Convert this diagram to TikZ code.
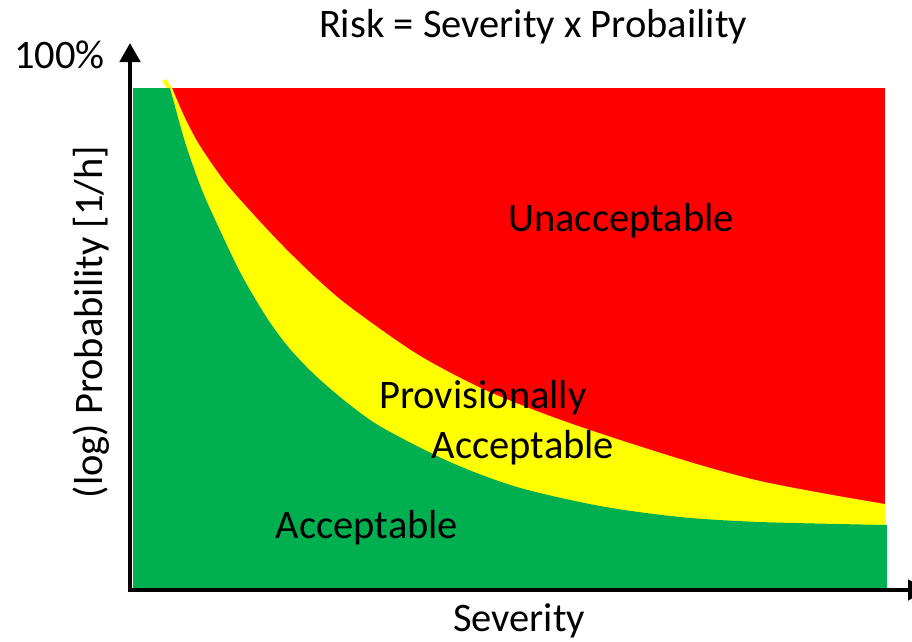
\documentclass[tikz,border=0pt]{standalone}
\usepackage{fontspec}
\setmainfont{Carlito}
\usetikzlibrary{arrows.meta}

\definecolor{riskred}{RGB}{255,0,0}
\definecolor{riskyellow}{RGB}{255,255,0}
\definecolor{riskgreen}{RGB}{0,176,80}

\tikzset{
  label/.style={inner sep=0pt, font=\fontsize{40.5}{48}\selectfont, text=black},
  axis/.style={line width=4.5pt, line join=miter,
    {Triangle[length=19pt,width=20pt]}-{Triangle[length=19pt,width=20pt]}},
}

\begin{document}
\begin{tikzpicture}[x=1pt,y=-1pt]
  \useasboundingbox (0,0) rectangle (912,641);
  \clip (0,0) rectangle (912,641);

  % zones: red everywhere, yellow below the upper limit, green below the lower limit
  \fill[riskred] (133,88) rectangle (885,588);
  \fill[riskyellow] (133,88) -- (172,88)
    -- plot[smooth, tension=0.5] coordinates {(172,88) (185,118) (200,146) (225,182)
      (253,214) (283,246) (317,279) (350,307) (417,354) (483,389) (550,416)
      (620,440) (700,465) (760,481) (827,494) (885,504)}
    -- (885,588) -- (133,588) -- cycle;
  \fill[riskyellow] (162,81) -- (166,79) -- (172,88) -- (167,88) -- cycle;
  \fill[riskgreen] (133,88) -- (170,88)
    -- plot[smooth, tension=0.5] coordinates {(170,88) (185,142) (200,185) (212,213)
      (240,272) (267,318) (290,349) (317,377) (350,405) (383,428) (450,462)
      (517,487) (600,506) (680,517) (760,522) (887,525)}
    -- (887,588) -- (133,588) -- cycle;

  % axes
  \coordinate (ytip) at (130,43);
  \coordinate (origin) at (130,590);
  \coordinate (xtip) at (927,590);
  \draw[axis] (ytip) -- (origin) -- (xtip);

  % texts
  \node[label, anchor=base] (title) at (533,37) {Risk = Severity x Probaility};
  \node[label, anchor=base west] (top) at (14,68) {100\%};
  \node[label, anchor=base, rotate=90] (ylabel) at (102,322) {(log) Probability [1/h]};
  \node[label, anchor=base] (xlabel) at (519,631) {Severity};
  \node[label, anchor=base] (unacc) at (621,231) {Unacceptable};
  \node[label, anchor=base] (prov) at (483,408) {Provisionally};
  \node[label, anchor=base] (provacc) at (523,458) {Acceptable};
  \node[label, anchor=base] (acc) at (367,538) {Acceptable};
\end{tikzpicture}
\end{document}
